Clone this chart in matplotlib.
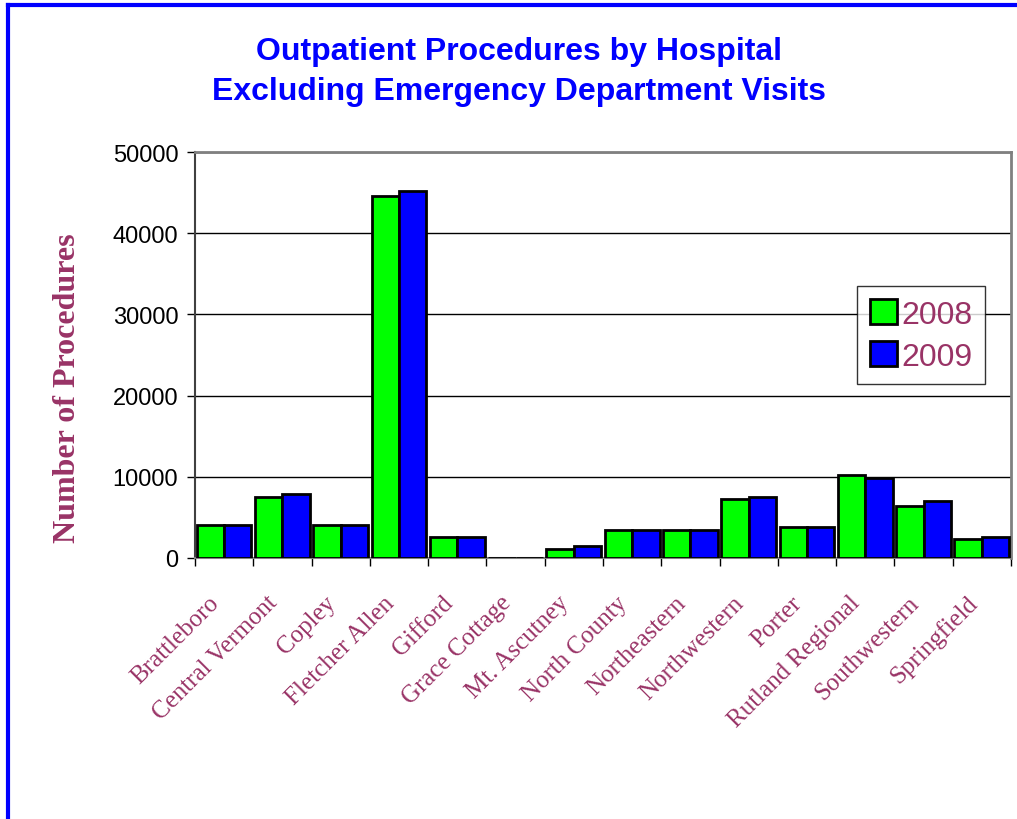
import numpy as np
import matplotlib.pyplot as plt
import matplotlib.transforms as mtransforms
from matplotlib.lines import Line2D

hospitals = ['Brattleboro', 'Central Vermont', 'Copley', 'Fletcher Allen', 'Gifford',
             'Grace Cottage', 'Mt. Ascutney', 'North County', 'Northeastern',
             'Northwestern', 'Porter', 'Rutland Regional', 'Southwestern', 'Springfield']
y2008 = [4070, 7570, 4070, 44570, 2630, 0, 1150, 3500, 3500, 7280, 3780, 10160, 6370, 2340]
y2009 = [4070, 7850, 4070, 45190, 2630, 0, 1440, 3500, 3500, 7570, 3780, 9870, 6990, 2630]
years = ['2008', '2009']

purple = '#993366'

fig = plt.figure(figsize=(10.17, 8.2), dpi=100)
ax = fig.add_axes([0.1917, 0.3183, 0.8024, 0.4951])

x = np.arange(len(hospitals))
w = 0.47
ax.bar(x - w / 2, y2008, w, color='#00ff00', edgecolor='black', linewidth=2, label=years[0], zorder=3)
ax.bar(x + w / 2, y2009, w, color='#0000ff', edgecolor='black', linewidth=2, label=years[1], zorder=3)

ax.set_xlim(-0.5, len(hospitals) - 0.5)
ax.set_ylim(0, 50000)
ax.set_yticks(np.arange(0, 50001, 10000))
ax.yaxis.grid(True, color='black', linewidth=1, zorder=0)

# category boundaries as ticks
ax.set_xticks(np.arange(len(hospitals) + 1) - 0.5, minor=False)
ax.set_xticklabels([])
ax.set_xticks(x, minor=True)
ax.set_xticklabels(hospitals, minor=True, rotation=45, ha='right', rotation_mode='anchor',
                   fontsize=18, color=purple, family='Liberation Serif')
ax.tick_params(axis='x', which='minor', length=0, pad=24)
ax.tick_params(axis='x', which='major', length=6, direction='out', width=1)
shift = mtransforms.ScaledTranslation(-0.16, 0, fig.dpi_scale_trans)
for lab in ax.xaxis.get_minorticklabels():
    lab.set_transform(lab.get_transform() + shift)

ax.tick_params(axis='y', length=6, width=1, labelsize=17, pad=6)
for lab in ax.get_yticklabels():
    lab.set_family('Liberation Sans')

for s in ['top', 'right']:
    ax.spines[s].set_color('#808080')
    ax.spines[s].set_linewidth(2)
ax.spines['left'].set_color('#404040')
ax.spines['left'].set_linewidth(1.5)
ax.spines['bottom'].set_color('#808080')
ax.spines['bottom'].set_linewidth(1.5)

ax.set_ylabel('Number of Procedures', fontsize=23, fontweight='bold', color=purple,
              family='Liberation Serif')
ax.yaxis.set_label_coords(-0.138, 0.421)

fig.text(0.51, 0.937, 'Outpatient Procedures by Hospital', ha='center', va='center',
         fontsize=23, fontweight='bold', color='#0000ff', family='Liberation Sans')
fig.text(0.51, 0.888, 'Excluding Emergency Department Visits', ha='center', va='center',
         fontsize=23, fontweight='bold', color='#0000ff', family='Liberation Sans')

leg = ax.legend(loc='upper left', bbox_to_anchor=(0.811, 0.670), fontsize=23, frameon=True,
                fancybox=False, edgecolor='black', handlelength=0.85, handleheight=0.85,
                handletextpad=0.15, borderpad=0.4, labelspacing=0.35, borderaxespad=0)
leg.get_frame().set_linewidth(1)
for t in leg.get_texts():
    t.set_color(purple)
    t.set_family('Liberation Sans')

# blue outer border (left and top visible)
fig.add_artist(Line2D([0.008, 0.008], [0, 0.993], color='#0000ff', linewidth=3, transform=fig.transFigure))
fig.add_artist(Line2D([0.008, 1.0], [0.993, 0.993], color='#0000ff', linewidth=3, transform=fig.transFigure))

fig.savefig('out.png', dpi=100)
